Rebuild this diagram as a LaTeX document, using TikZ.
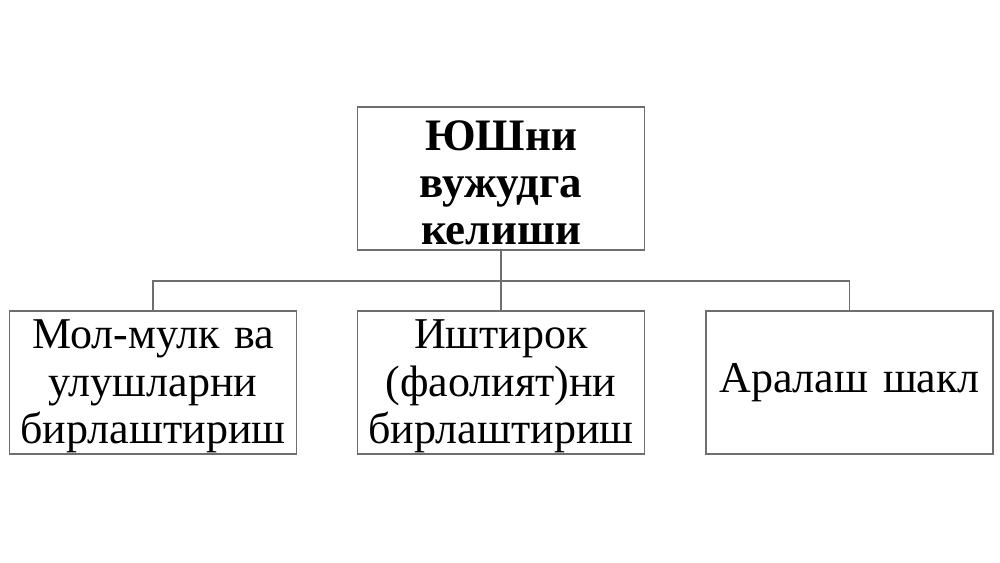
\documentclass[tikz,border=0pt]{standalone}
\usepackage{fontspec}
\setmainfont{Liberation Serif}
\definecolor{boxline}{HTML}{6E6E6E}
\newcommand{\topstrut}[1]{\rule{0pt}{#1}}
\begin{document}
\begin{tikzpicture}[x=1pt,y=-1pt,
  box/.style={draw=boxline,line width=1.3pt,rectangle,minimum width=287pt,minimum height=143pt,inner sep=0pt,align=center,text width=285pt},
  bodytext/.style={font=\fontsize{44}{47.5}\selectfont},
  headtext/.style={font=\fontsize{45}{47}\selectfont\bfseries},
  conn/.style={draw=boxline,line width=1.3pt}]
\useasboundingbox (0,0) rectangle (1000,562);
\fill[white] (0,0) rectangle (1000,562);
\node[box,headtext] (top) at (501,178.5) {\topstrut{38pt}ЮШни\\вужудга\\келиши};
\node[box,bodytext] (left) at (153,382.5) {\topstrut{37pt}Мол-мулк ва\\улушларни\\бирлаштириш};
\node[box,bodytext] (mid) at (501,382.5) {\topstrut{37pt}Иштирок\\(фаолият)ни\\бирлаштириш};
\node[box,bodytext] (right) at (849.5,382.5) {Аралаш шакл};
\coordinate (busL) at (153,281);
\coordinate (busR) at (849.5,281);
\draw[conn] (top.south) -- (mid.north);
\draw[conn] (left.north) -- (busL) -- (busR) -- (right.north);
\end{tikzpicture}
\end{document}
